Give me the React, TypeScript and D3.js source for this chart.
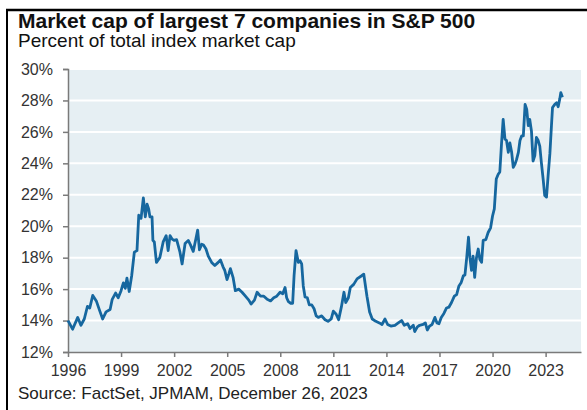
import React, { useRef, useEffect } from "react";
import * as d3 from "d3";

// decimal year of each reading
const dates = [
    1996.0, 1996.26, 1996.55, 1996.73, 1996.92, 1997.1, 1997.23, 1997.4, 1997.6, 1997.8,
    1997.96, 1998.15, 1998.38, 1998.5, 1998.69, 1998.84, 1999.0, 1999.13, 1999.24, 1999.33,
    1999.46, 1999.6, 1999.75, 1999.9, 2000.0, 2000.13, 2000.26, 2000.37, 2000.47, 2000.56,
    2000.63, 2000.75, 2000.8, 2000.88, 2001.0, 2001.19, 2001.38, 2001.55, 2001.66, 2001.77,
    2001.87, 2002.0, 2002.14, 2002.33, 2002.45, 2002.62, 2002.8, 2002.93, 2003.08, 2003.23,
    2003.33, 2003.43, 2003.56, 2003.66, 2003.8, 2003.93, 2004.12, 2004.3, 2004.49, 2004.62,
    2004.77, 2004.86, 2004.99, 2005.09, 2005.18, 2005.33, 2005.46, 2005.65, 2005.84, 2006.03,
    2006.22, 2006.35, 2006.54, 2006.69, 2006.88, 2007.07, 2007.26, 2007.45, 2007.63, 2007.8,
    2007.99, 2008.14, 2008.27, 2008.36, 2008.46, 2008.59, 2008.7, 2008.78, 2008.89, 2009.02,
    2009.12, 2009.21, 2009.3, 2009.4, 2009.53, 2009.64, 2009.78, 2009.91, 2010.03, 2010.15,
    2010.34, 2010.53, 2010.7, 2010.88, 2011.0, 2011.16, 2011.3, 2011.46, 2011.6, 2011.7,
    2011.85, 2011.96, 2012.15, 2012.34, 2012.6, 2012.72, 2012.9, 2013.05, 2013.2, 2013.4,
    2013.6, 2013.75, 2013.92, 2014.07, 2014.25, 2014.48, 2014.67, 2014.86, 2015.01, 2015.2,
    2015.33, 2015.52, 2015.6, 2015.75, 2015.88, 2016.07, 2016.2, 2016.31, 2016.44, 2016.58,
    2016.74, 2016.86, 2016.97, 2017.1, 2017.25, 2017.4, 2017.53, 2017.68, 2017.84, 2017.97,
    2018.1, 2018.22, 2018.35, 2018.44, 2018.54, 2018.64, 2018.72, 2018.81, 2018.9, 2018.99,
    2019.09, 2019.19, 2019.28, 2019.38, 2019.47, 2019.62, 2019.75, 2019.89, 2020.0, 2020.1,
    2020.21, 2020.32, 2020.41, 2020.51, 2020.6, 2020.7, 2020.79, 2020.89, 2020.98, 2021.08,
    2021.17, 2021.27, 2021.36, 2021.46, 2021.55, 2021.65, 2021.74, 2021.84, 2021.93, 2022.02,
    2022.1, 2022.2, 2022.29, 2022.39, 2022.48, 2022.58, 2022.67, 2022.76, 2022.86, 2022.95,
    2023.05, 2023.14, 2023.24, 2023.33, 2023.39, 2023.52, 2023.62, 2023.71, 2023.8, 2023.86,
    2023.95,
];

// share of total S&P 500 market cap held by the 7 largest names, %
const shares = [
    14.0, 13.45, 14.2, 13.7, 14.1, 14.9, 14.8, 15.6, 15.25, 14.6,
    14.1, 14.55, 14.7, 15.35, 15.75, 15.45, 15.9, 16.4, 16.05, 16.7,
    15.85, 16.85, 18.35, 18.45, 20.7, 20.5, 21.8, 20.6, 21.4, 21.1,
    20.6, 20.6, 19.1, 19.0, 17.7, 18.0, 19.0, 19.4, 18.45, 19.4,
    19.2, 19.1, 19.15, 18.35, 17.6, 18.9, 19.1, 18.8, 18.4, 19.2,
    19.75, 18.5, 18.85, 18.8, 18.55, 18.1, 17.7, 17.5, 17.7, 17.85,
    17.4, 17.2, 16.6, 16.95, 17.3, 16.75, 15.9, 16.0, 15.8, 15.55,
    15.3, 15.05, 15.3, 15.8, 15.55, 15.55, 15.35, 15.25, 15.45, 15.55,
    15.8, 15.7, 16.1, 15.45, 15.2, 15.1, 15.1, 16.85, 18.45, 17.7,
    17.8, 17.6, 16.2, 15.5, 15.45, 15.0, 15.0, 14.75, 14.3, 14.2,
    14.3, 14.05, 13.95, 14.1, 14.6, 14.4, 14.05, 14.9, 15.8, 15.15,
    15.45, 16.1, 16.3, 16.65, 16.85, 16.95, 15.55, 14.55, 14.1, 13.95,
    13.85, 13.75, 14.1, 13.75, 13.65, 13.7, 13.85, 14.0, 13.7, 13.8,
    13.5, 13.7, 13.3, 13.6, 13.7, 13.75, 13.85, 13.4, 13.65, 13.75,
    14.2, 13.85, 13.8, 14.2, 14.45, 14.8, 14.85, 15.15, 15.55, 15.65,
    16.2, 16.4, 16.85, 16.9, 18.0, 19.3, 18.0, 17.2, 18.1, 16.75,
    18.0, 18.55, 17.9, 17.7, 19.1, 19.15, 19.6, 19.9, 20.65, 21.1,
    23.0, 23.3, 23.45, 25.3, 26.8, 25.55, 25.45, 24.7, 25.3, 24.7,
    23.75, 23.95, 24.25, 24.7, 25.45, 25.75, 25.75, 27.75, 27.45, 26.4,
    26.8, 26.05, 24.15, 24.5, 25.65, 25.45, 25.1, 24.05, 23.0, 21.95,
    21.85, 23.2, 24.6, 26.4, 27.55, 27.75, 27.85, 27.6, 28.1, 28.5,
    28.2,
];

const yTicks = [12, 14, 16, 18, 20, 22, 24, 26, 28, 30];
const xTicks = [1996, 1999, 2002, 2005, 2008, 2011, 2014, 2017, 2020, 2023];

const title = "Market cap of largest 7 companies in S&P 500";
const subtitle = "Percent of total index market cap";
const source = "Source: FactSet, JPMAM, December 26, 2023";

export default function App() {
    const svgRef = useRef<SVGSVGElement>(null);
    const width = 587;
    const height = 410;

    useEffect(() => {
        if (!svgRef.current) return;
        const svg = d3.select(svgRef.current);
        svg.selectAll("*").remove();

        const font = "'Liberation Sans', Arial, sans-serif";
        const plot = { left: 68, right: 581, top: 69, bottom: 352 };

        const x = d3.scaleLinear().domain([1996, 2025]).range([plot.left, plot.right]);
        const y = d3.scaleLinear().domain([12, 30]).range([plot.bottom, plot.top]);

        svg.append("rect").attr("width", width).attr("height", height).attr("fill", "#fff");

        // frame lines (top + left)
        svg.append("line")
            .attr("x1", 6).attr("x2", width).attr("y1", 10).attr("y2", 10)
            .attr("stroke", "#000").attr("stroke-width", 2.5);
        svg.append("line")
            .attr("x1", 7).attr("x2", 7).attr("y1", 9).attr("y2", height)
            .attr("stroke", "#000").attr("stroke-width", 2);

        // titles
        svg.append("text")
            .attr("x", 18).attr("y", 28)
            .attr("font-family", font).attr("font-weight", "bold")
            .attr("font-size", 21).attr("fill", "#111")
            .text(title);
        svg.append("text")
            .attr("x", 18).attr("y", 47)
            .attr("font-family", font).attr("font-size", 19).attr("fill", "#111")
            .text(subtitle);

        // plot background
        svg.append("rect")
            .attr("x", plot.left).attr("y", plot.top)
            .attr("width", plot.right - plot.left).attr("height", plot.bottom - plot.top)
            .attr("fill", "#e6eff3");

        // gridlines
        svg.append("g")
            .selectAll("line")
            .data(yTicks.filter(d => d > 12))
            .join("line")
            .attr("x1", plot.left).attr("x2", plot.right)
            .attr("y1", d => y(d)).attr("y2", d => y(d))
            .attr("stroke", "#fff").attr("stroke-width", 2);

        // y axis
        const yAxis = svg.append("g")
            .attr("transform", `translate(${plot.left},0)`)
            .call(d3.axisLeft(y).tickValues(yTicks).tickSize(5).tickPadding(10).tickFormat(d => `${d}%`));
        yAxis.select(".domain").attr("stroke", "#7a7a7a").attr("stroke-width", 1.5);
        yAxis.selectAll(".tick line").attr("stroke", "#7a7a7a").attr("stroke-width", 1.5);
        yAxis.selectAll(".tick text")
            .attr("font-family", font).attr("font-size", 16).attr("fill", "#333");

        // x axis
        const xAxis = svg.append("g")
            .attr("transform", `translate(0,${plot.bottom})`)
            .call(d3.axisBottom(x).tickValues(xTicks).tickSize(5).tickSizeOuter(0).tickPadding(8).tickFormat(d => `${d}`));
        xAxis.select(".domain").attr("stroke", "#7a7a7a").attr("stroke-width", 1.5);
        xAxis.selectAll(".tick line").attr("stroke", "#7a7a7a").attr("stroke-width", 1.5);
        xAxis.selectAll(".tick text")
            .attr("font-family", font).attr("font-size", 16).attr("fill", "#333");

        // series
        const pts = dates.map((d, i) => ({ date: d, value: shares[i] }));
        const line = d3.line<{ date: number; value: number }>()
            .x(d => x(d.date))
            .y(d => y(d.value));
        svg.append("path")
            .datum(pts)
            .attr("fill", "none")
            .attr("stroke", "#16679f")
            .attr("stroke-width", 2.8)
            .attr("stroke-linejoin", "round")
            .attr("d", line);

        // source
        svg.append("text")
            .attr("x", 18).attr("y", 399)
            .attr("font-family", font).attr("font-size", 17).attr("fill", "#222")
            .text(source);
    }, []);

    return (
        <div style={{ position: "absolute", left: 0, top: 0 }}>
            <svg ref={svgRef} width={width} height={height} />
        </div>
    );
}
